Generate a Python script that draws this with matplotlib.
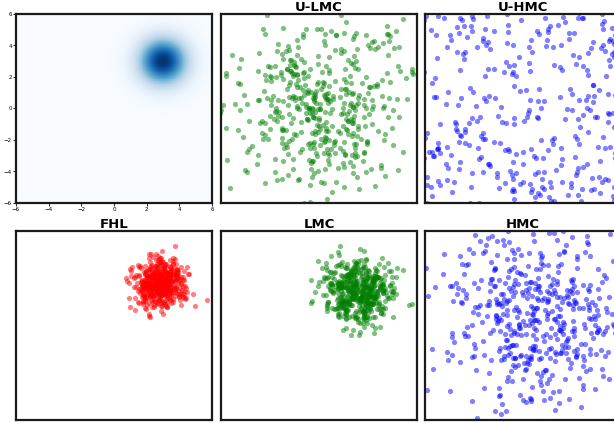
import numpy as np
import matplotlib
matplotlib.use("Agg")
import matplotlib.pyplot as plt

# target density (gaussian)
target_mean = [3.0, 3.0]
target_std = 1.0

# samples per method: (title, colour, centre x/y, spread, kind)
titles = ["U-LMC", "U-HMC", "FHL", "LMC", "HMC"]
colors = ["g", "b", "r", "g", "b"]
centers = [(0.0, 0.1), (0.0, 0.0), (2.8, 2.7), (2.4, 2.2), (0.8, 0.7)]
spreads = [2.8, 6.3, 0.75, 1.0, 3.0]
kinds = ["normal", "uniform", "normal", "normal", "normal"]
n_samples = [480, 360, 500, 500, 520]
lim = 6

rng = np.random.default_rng(3)

fig = plt.figure(figsize=(6.14, 4.23), dpi=100)
W, H = 614, 423
aw, ah = 196, 189
lefts = [16, 221, 425]
tops = [14, 231]

def make_ax(col, row):
    ax = fig.add_axes([lefts[col] / W, 1 - (tops[row] + ah) / H, aw / W, ah / H])
    for s in ax.spines.values():
        s.set_linewidth(1.6)
        s.set_color("#1a1a1a")
    return ax

# density panel
ax = make_ax(0, 0)
xs = np.linspace(-lim, lim, 300)
X, Y = np.meshgrid(xs, xs)
Z = np.exp(-((X - target_mean[0]) ** 2 + (Y - target_mean[1]) ** 2) / (2 * target_std ** 2))
ax.pcolormesh(X, Y, Z, cmap="Blues", shading="auto")
ax.set_xlim(-lim, lim)
ax.set_ylim(-lim, lim)
ax.set_xticks(range(-6, 7, 2))
ax.set_yticks(range(-6, 7, 2))
ax.tick_params(labelsize=4, length=2, width=0.6, pad=1)

positions = [(1, 0), (2, 0), (0, 1), (1, 1), (2, 1)]
for i, (col, row) in enumerate(positions):
    ax = make_ax(col, row)
    cx, cy = centers[i]
    n = n_samples[i]
    if kinds[i] == "uniform":
        px = rng.uniform(cx - spreads[i], cx + spreads[i], n)
        py = rng.uniform(cy - spreads[i], cy + spreads[i], n)
    else:
        px = rng.normal(cx, spreads[i], n)
        py = rng.normal(cy, spreads[i], n)
    ax.scatter(px, py, s=14, c=colors[i], alpha=0.5, linewidths=0)
    ax.set_xlim(-lim, lim)
    ax.set_ylim(-lim, lim)
    ax.set_xticks([])
    ax.set_yticks([])
    ax.set_title(titles[i], fontsize=9.5, fontweight="bold", pad=2)

fig.savefig("out.png", dpi=100)
